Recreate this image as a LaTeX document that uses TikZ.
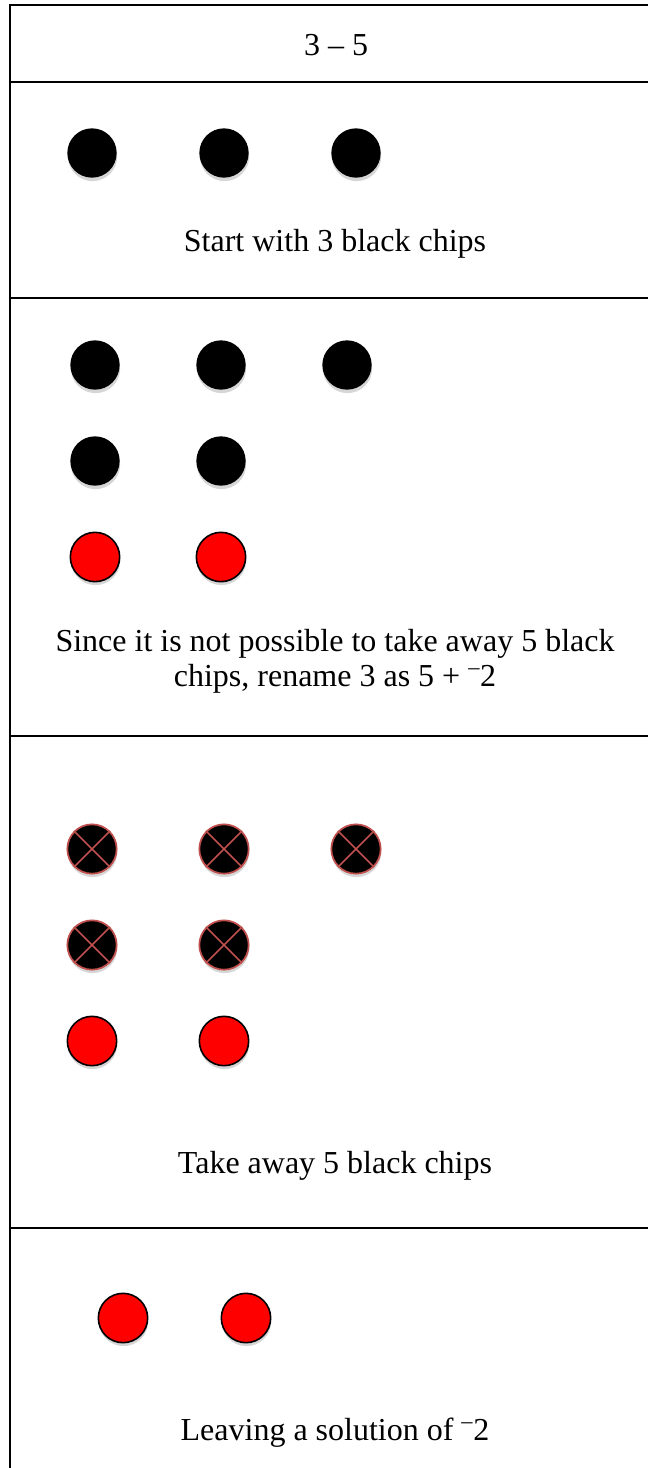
\documentclass[tikz,border=0pt]{standalone}
\usepackage{fontspec}
\setmainfont{Liberation Serif}
\usetikzlibrary{shadows}
\definecolor{crossred}{RGB}{192,80,77}
\definecolor{chipred}{RGB}{255,0,0}

\begin{document}
\begin{tikzpicture}[
  x=0.75pt, y=-0.75pt,
  rule/.style={line width=1.5pt, line cap=rect},
  chip/.style={circle, inner sep=0pt, minimum size=37pt,
    drop shadow={shadow xshift=0.4pt, shadow yshift=-2.6pt, opacity=0.32}},
  blackchip/.style={chip, fill=black},
  redchip/.style={chip, fill=chipred, draw=black, line width=1.2pt},
  gonechip/.style={chip, fill=black, draw=crossred, line width=1.3pt},
  crossline/.style={draw=crossred, line width=1.2pt},
  caption/.style={font=\fontsize{24}{26.5}\selectfont, align=center}
]
\useasboundingbox (0,0) rectangle (648,1468);

% table frame
\draw[rule] (10,5) -- (10,1468);
\draw[rule] (10,5) -- (648,5);
\draw[rule] (10,82) -- (648,82);
\draw[rule] (10,298) -- (648,298);
\draw[rule] (10,736) -- (648,736);
\draw[rule] (10,1228) -- (648,1228);

% heading
\node[caption] (title) at (336,45) {3 – 5};

% row 1: three black chips
\node[blackchip] (s1) at (92,153) {};
\node[blackchip] (s2) at (224,153) {};
\node[blackchip] (s3) at (356,153) {};
\node[caption] (start) at (335,244) {Start with 3 black chips};

% row 2: rename 3 as 5 + -2
\node[blackchip] (b1) at (95,365) {};
\node[blackchip] (b2) at (221,365) {};
\node[blackchip] (b3) at (347,365) {};
\node[blackchip] (b4) at (95,461) {};
\node[blackchip] (b5) at (221,461) {};
\node[redchip] (r1) at (95,557) {};
\node[redchip] (r2) at (221,557) {};
\node[caption] (rename) at (335,661) {Since it is not possible to take away 5 black\\chips, rename 3 as 5 + \textsuperscript{–}2};

% row 3: take away 5 black chips
\node[gonechip] (g1) at (92,849) {};
\node[gonechip] (g2) at (224,849) {};
\node[gonechip] (g3) at (356,849) {};
\node[gonechip] (g4) at (92,945) {};
\node[gonechip] (g5) at (224,945) {};
\foreach \g in {g1,g2,g3,g4,g5}
  \draw[crossline] (\g.north east) -- (\g.south west) (\g.north west) -- (\g.south east);
\node[redchip] (t1) at (92,1041) {};
\node[redchip] (t2) at (224,1041) {};
\node[caption] (takeaway) at (335,1166) {Take away 5 black chips};

% row 4: result
\node[redchip] (f1) at (123,1318) {};
\node[redchip] (f2) at (246,1318) {};
\node[caption] (leaving) at (335,1433) {Leaving a solution of \textsuperscript{–}2};

\end{tikzpicture}
\end{document}
